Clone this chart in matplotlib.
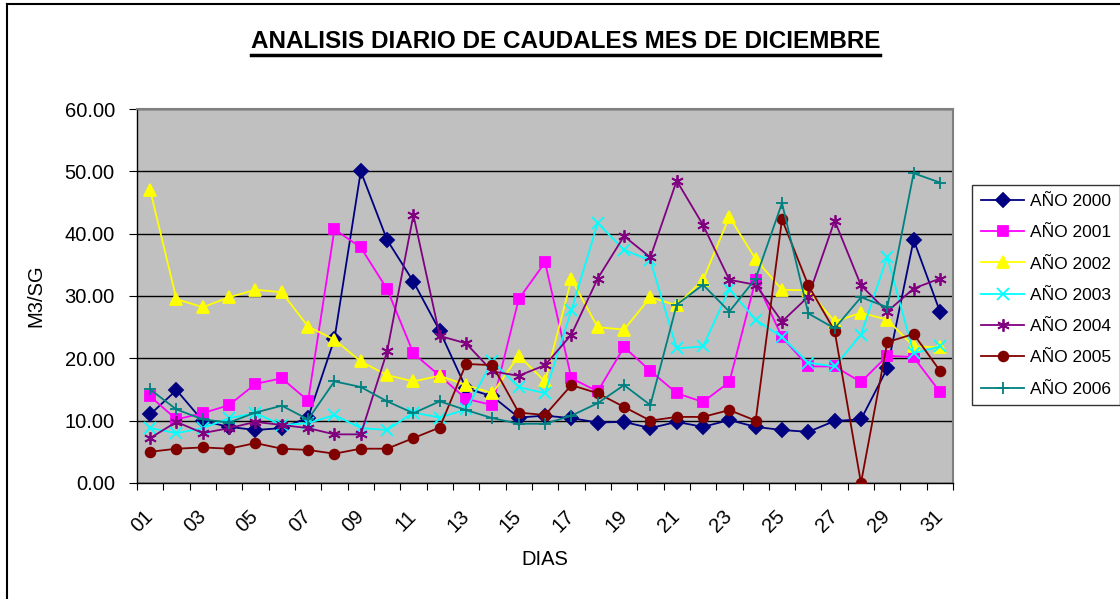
import matplotlib as mpl
mpl.use('Agg')
import matplotlib.pyplot as plt
from matplotlib.lines import Line2D
from matplotlib.transforms import ScaledTranslation
import numpy as np

plt.rcParams['font.family'] = ['Liberation Sans', 'DejaVu Sans']

dias = ['%02d' % d for d in range(1, 32)]

anio_2000 = [11.0, 14.9, 9.95, 9.0, 8.5, 8.8, 10.5, 23.1, 50.0, 39.0, 32.3, 24.4, 15.2, 13.9, 10.5, 10.8,
             10.4, 9.7, 9.8, 8.8, 9.8, 9.0, 10.1, 9.0, 8.5, 8.2, 9.95, 10.2, 18.4, 39.0, 27.5]
anio_2001 = [13.9, 10.2, 11.2, 12.5, 15.9, 16.8, 13.2, 40.7, 37.8, 31.1, 20.8, 17.2, 13.5, 12.5, 29.5, 35.4,
             16.8, 14.7, 21.8, 18.0, 14.4, 13.0, 16.2, 32.6, 23.4, 18.7, 18.7, 16.2, 20.4, 20.2, 14.6]
anio_2002 = [47.0, 29.5, 28.2, 29.8, 31.0, 30.6, 25.1, 23.0, 19.5, 17.3, 16.3, 17.2, 15.7, 14.4, 20.4, 16.3,
             32.7, 25.0, 24.6, 29.8, 28.5, 32.6, 42.7, 35.9, 31.0, 30.9, 25.9, 27.3, 26.2, 21.9, 21.8]
anio_2003 = [8.8, 8.0, 8.8, 10.4, 11.2, 9.3, 9.6, 10.9, 8.8, 8.5, 11.3, 10.5, 11.8, 19.5, 15.4, 14.4,
             27.7, 41.7, 37.4, 35.7, 21.6, 21.9, 31.1, 26.2, 23.4, 19.3, 18.7, 23.8, 36.3, 20.8, 21.9]
anio_2004 = [7.2, 9.8, 8.0, 8.8, 9.8, 9.3, 8.8, 7.8, 7.8, 21.1, 43.0, 23.6, 22.4, 17.9, 17.2, 18.9,
             23.8, 32.8, 39.6, 36.2, 48.5, 41.4, 32.6, 31.8, 25.9, 29.9, 42.1, 31.7, 27.5, 31.2, 32.8]
anio_2005 = [5.0, 5.5, 5.7, 5.5, 6.4, 5.5, 5.3, 4.7, 5.5, 5.5, 7.2, 8.9, 19.1, 18.9, 11.3, 10.9,
             15.7, 14.4, 12.2, 10.0, 10.6, 10.6, 11.7, 10.0, 42.3, 31.7, 24.4, 0.0, 22.6, 23.9, 18.0]
anio_2006 = [15.0, 11.8, 10.2, 9.7, 11.3, 12.4, 10.2, 16.3, 15.4, 13.1, 11.2, 13.1, 11.7, 10.4, 9.5, 9.5,
             10.8, 12.8, 15.7, 12.5, 28.6, 31.8, 27.5, 32.8, 44.9, 27.2, 24.8, 29.8, 28.2, 49.7, 48.2]

series = [
    ('AÑO 2000', anio_2000, '#000080', 'D', 7),
    ('AÑO 2001', anio_2001, '#FF00FF', 's', 7),
    ('AÑO 2002', anio_2002, '#FFFF00', '^', 8),
    ('AÑO 2003', anio_2003, '#00FFFF', 'x', 8),
    ('AÑO 2004', anio_2004, '#800080', (6, 2, 0), 9),
    ('AÑO 2005', anio_2005, '#800000', 'o', 7),
    ('AÑO 2006', anio_2006, '#008080', '+', 9),
]

fig = plt.figure(figsize=(11.2, 5.99), dpi=100)
ax = fig.add_axes([0.1223, 0.1937, 0.7287, 0.6243])
ax.set_facecolor('#C0C0C0')

x = np.arange(len(dias))
for name, vals, color, mk, ms in series:
    ax.plot(x, vals, color=color, marker=mk, markersize=ms, lw=1.3,
            markeredgewidth=1.3, label=name, zorder=3)

ax.set_xlim(-0.5, len(dias) - 0.5)
ax.set_ylim(0, 60)
ax.set_yticks(np.arange(0, 61, 10))
ax.set_yticklabels(['%.2f' % v for v in np.arange(0, 61, 10)], fontsize=14.5)
ax.yaxis.grid(True, color='black', lw=1)
ax.set_axisbelow(True)

ax.set_xticks(np.arange(-0.5, len(dias), 1))
ax.set_xticklabels([])
ax.set_xticks(x[::2], minor=True)
ax.set_xticklabels(dias[::2], minor=True, rotation=45, ha='right', va='center',
                   rotation_mode='anchor', fontsize=14.5)
shift = ScaledTranslation(-0.16, 0, fig.dpi_scale_trans)
for lab in ax.get_xticklabels(minor=True):
    lab.set_transform(lab.get_transform() + shift)
ax.tick_params(axis='x', which='minor', length=0, pad=22)
ax.tick_params(axis='x', which='major', length=5, direction='out', color='black')
ax.tick_params(axis='y', length=6, direction='out', color='black', pad=10)

for s in ['top', 'right']:
    ax.spines[s].set_color('#808080')
    ax.spines[s].set_linewidth(1.5)
for s in ['left', 'bottom']:
    ax.spines[s].set_color('black')
    ax.spines[s].set_linewidth(1)

ax.set_xlabel('DIAS', fontsize=14.5, labelpad=10)
ax.set_ylabel('M3/SG', fontsize=14.5, labelpad=14)

leg = ax.legend(loc='upper left', bbox_to_anchor=(0.868, 0.691), bbox_transform=fig.transFigure,
                fontsize=12.5, frameon=True, fancybox=False, edgecolor='black',
                handlelength=2.5, labelspacing=0.93, borderpad=0.5, handletextpad=0.35,
                borderaxespad=0)
leg.get_frame().set_linewidth(1)

title = fig.text(0.505, 0.931, 'ANALISIS DIARIO DE CAUDALES MES DE DICIEMBRE',
                 ha='center', va='center', fontsize=17.5, fontweight='bold',
                 family=['Liberation Sans Narrow', 'Liberation Sans', 'DejaVu Sans'])
fig.canvas.draw()
bb = title.get_window_extent().transformed(fig.transFigure.inverted())
fig.add_artist(Line2D([bb.x0, bb.x1], [bb.y0 - 0.004, bb.y0 - 0.004], color='black', lw=2.5,
                      transform=fig.transFigure))

# chart area border (only top and left edges fall inside the image)
fig.add_artist(Line2D([7 / 1120, 1.0], [1 - 4 / 599, 1 - 4 / 599], color='black', lw=1.5,
                      transform=fig.transFigure))
fig.add_artist(Line2D([7 / 1120, 7 / 1120], [0.0, 1 - 4 / 599], color='black', lw=1.5,
                      transform=fig.transFigure))

fig.savefig('out.png', dpi=100)
